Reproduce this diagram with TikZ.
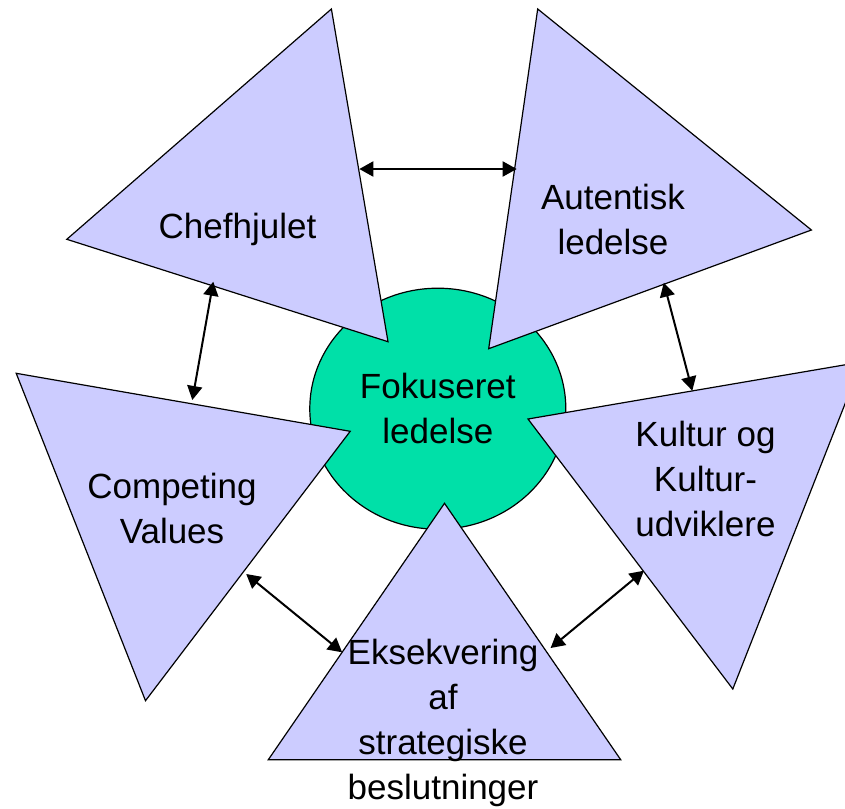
\documentclass[tikz,border=0pt]{standalone}
\usepackage{fontspec}
\setmainfont{Liberation Sans}
\usetikzlibrary{arrows.meta,shapes.geometric}
\definecolor{wedgeblue}{HTML}{CCCCFF}
\definecolor{hubgreen}{HTML}{00E0A8}
\begin{document}
\begin{tikzpicture}[x=1pt,y=-1pt,
  every node/.style={font=\fontsize{35}{45}\selectfont, align=center, inner sep=0pt},
  wedge/.style={fill=wedgeblue, draw=black, line width=1.2pt},
  label/.style={anchor=north},
  link/.style={{Triangle[length=14pt,width=15pt]}-{Triangle[length=14pt,width=15pt]}, line width=2pt}]
\useasboundingbox (0,0) rectangle (845,808);
\clip (0,0) rectangle (845,808);
\node[ellipse, draw=black, fill=hubgreen, line width=1.2pt, minimum width=256, minimum height=241] (fokus) at (437.8,408.7) {Fokuseret\\ledelse};
\coordinate (chef-a) at (66.8,239.3);
\coordinate (chef-b) at (331.4,9);
\coordinate (chef-c) at (388,341.7);
\coordinate (aut-a) at (537.7,9);
\coordinate (aut-b) at (811.4,230);
\coordinate (aut-c) at (488.7,348.7);
\coordinate (kul-a) at (528,419);
\coordinate (kul-b) at (861.5,362);
\coordinate (kul-c) at (732.8,689);
\coordinate (eks-a) at (444.5,503.3);
\coordinate (eks-b) at (620.7,759.7);
\coordinate (eks-c) at (268.3,759.7);
\coordinate (comp-a) at (16.2,373.3);
\coordinate (comp-b) at (350.2,431.3);
\coordinate (comp-c) at (145.5,700.7);
\draw[wedge] (chef-a) -- (chef-b) -- (chef-c) -- cycle;
\draw[wedge] (aut-a) -- (aut-b) -- (aut-c) -- cycle;
\draw[wedge] (kul-a) -- (kul-b) -- (kul-c) -- cycle;
\draw[wedge] (comp-a) -- (comp-b) -- (comp-c) -- cycle;
\draw[wedge] (eks-a) -- (eks-b) -- (eks-c) -- cycle;
\node[label] (chef) at (237.5,212.7) {Chefhjulet};
\node[label] (autentisk) at (613,183.7) {Autentisk\\ledelse};
\node[label] (kultur) at (705.5,421.1) {Kultur og\\Kultur-\\udviklere};
\node[label] (competing) at (172,472.7) {Competing\\Values};
\node[label] (eksekvering) at (443,639.4) {Eksekvering\\af\\strategiske\\beslutninger};
\coordinate (chef-e) at (359.3,169);
\coordinate (aut-w) at (516.7,169);
\coordinate (chef-s) at (213.3,281.7);
\coordinate (comp-n) at (192.3,400);
\coordinate (aut-s) at (663.8,282.7);
\coordinate (kul-n) at (692.3,390.7);
\coordinate (comp-e) at (246.2,574);
\coordinate (eks-w) at (342.1,652.3);
\coordinate (kul-w) at (643.9,570.7);
\coordinate (eks-e) at (550.6,648);
\draw[link] (chef-e) -- (aut-w);
\draw[link] (chef-s) -- (comp-n);
\draw[link] (aut-s) -- (kul-n);
\draw[link] (comp-e) -- (eks-w);
\draw[link] (kul-w) -- (eks-e);
\end{tikzpicture}
\end{document}
